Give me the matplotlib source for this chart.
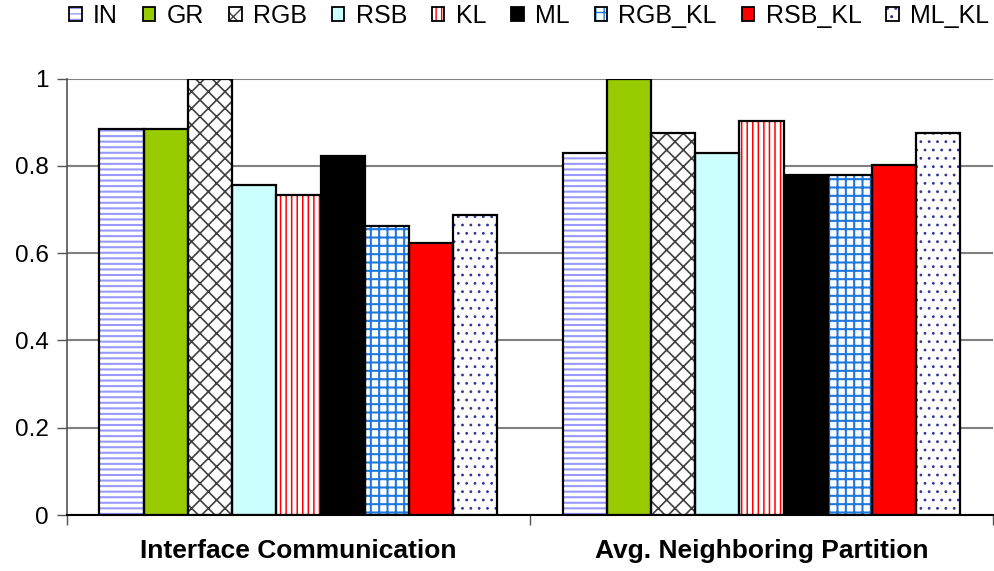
import matplotlib
matplotlib.use("Agg")
import matplotlib.pyplot as plt
from matplotlib.patches import Patch
import numpy as np

plt.rcParams['font.family'] = ['Liberation Sans', 'DejaVu Sans']

categories = ["Interface Communication", "Avg. Neighboring Partition"]
series = ["IN", "GR", "RGB", "RSB", "KL", "ML", "RGB_KL", "RSB_KL", "ML_KL"]
values = {
    "IN":     [0.884, 0.830],
    "GR":     [0.884, 1.000],
    "RGB":    [1.000, 0.876],
    "RSB":    [0.757, 0.830],
    "KL":     [0.734, 0.903],
    "ML":     [0.822, 0.780],
    "RGB_KL": [0.661, 0.779],
    "RSB_KL": [0.623, 0.802],
    "ML_KL":  [0.688, 0.876],
}
y_ticks = [0, 0.2, 0.4, 0.6, 0.8, 1]
y_tick_labels = ["0", "0.2", "0.4", "0.6", "0.8", "1"]

# fill colour, hatch pattern, hatch colour, hatch line width
styles = {
    "IN":     ("white",   "---", "#9999FF", 1.5),
    "GR":     ("#99CC00", None,  None,      1.0),
    "RGB":    ("white",   "xx",  "#404040", 1.2),
    "RSB":    ("#CCFFFF", None,  None,      1.0),
    "KL":     ("white",   "|||", "#FF0000", 1.1),
    "ML":     ("black",   None,  None,      1.0),
    "RGB_KL": ("white",   "++",  "#1E78DC", 1.5),
    "RSB_KL": ("#FF0000", None,  None,      1.0),
    "ML_KL":  ("white",   "..",  "#333399", 0.8),
}

fig = plt.figure(figsize=(9.95, 5.71), dpi=100)
ax = fig.add_axes([0.0673, 0.098, 0.9307, 0.7645])

x = np.arange(len(categories))
bar_w = 0.0955
n = len(series)
handles = []
for i, name in enumerate(series):
    offs = (i - (n - 1) / 2) * bar_w
    face, hatch, hcol, hlw = styles[name]
    vals = values[name]
    if hatch:
        fill = ax.bar(x + offs, vals, bar_w, color=face, hatch=hatch,
                      edgecolor=hcol, linewidth=0, zorder=3)
        for p in fill:
            if hasattr(p, "set_hatch_linewidth"):
                p.set_hatch_linewidth(hlw)
    else:
        ax.bar(x + offs, vals, bar_w, color=face, linewidth=0, zorder=3)
    ax.bar(x + offs, vals, bar_w, fill=False, edgecolor="black",
           linewidth=1.6, zorder=4)
    # legend swatch: pattern with a black outline
    if hatch:
        sw = Patch(facecolor=face, hatch=hatch, edgecolor=hcol, linewidth=0)
        if hasattr(sw, "set_hatch_linewidth"):
            sw.set_hatch_linewidth(hlw)
    else:
        sw = Patch(facecolor=face, linewidth=0)
    outline = Patch(fill=False, edgecolor="black", linewidth=1.3)
    handles.append((sw, outline))

ax.set_xlim(-0.5, 1.5)
ax.set_ylim(0, 1)
ax.set_yticks(y_ticks)
ax.set_yticklabels(y_tick_labels, fontsize=17.5)
ax.tick_params(axis="y", length=7, width=1, color="#555555", pad=6)

ax.set_xticks([-0.5, 0.5, 1.5])
ax.set_xticklabels(["", "", ""])
ax.tick_params(axis="x", which="major", length=7, width=1, color="#555555")
ax.set_xticks(x, minor=True)
ax.set_xticklabels(categories, minor=True, fontsize=19, fontweight="bold")
ax.tick_params(axis="x", which="minor", length=0, pad=17)

ax.yaxis.grid(True, color="#808080", linewidth=1.5, zorder=0)
ax.set_axisbelow(True)
for s in ("top", "right"):
    ax.spines[s].set_visible(False)
ax.spines["left"].set_color("#555555")
ax.spines["left"].set_linewidth(1.2)
ax.spines["bottom"].set_color("black")
ax.spines["bottom"].set_linewidth(1.5)
ax.spines["bottom"].set_zorder(5)

fig.legend(handles, series, loc="center", bbox_to_anchor=(0.532, 0.972),
           ncol=9, frameon=False, fontsize=18, handlelength=0.5,
           handleheight=0.5, handletextpad=0.45, columnspacing=1.0,
           borderaxespad=0)

fig.savefig("out.png", dpi=100)
